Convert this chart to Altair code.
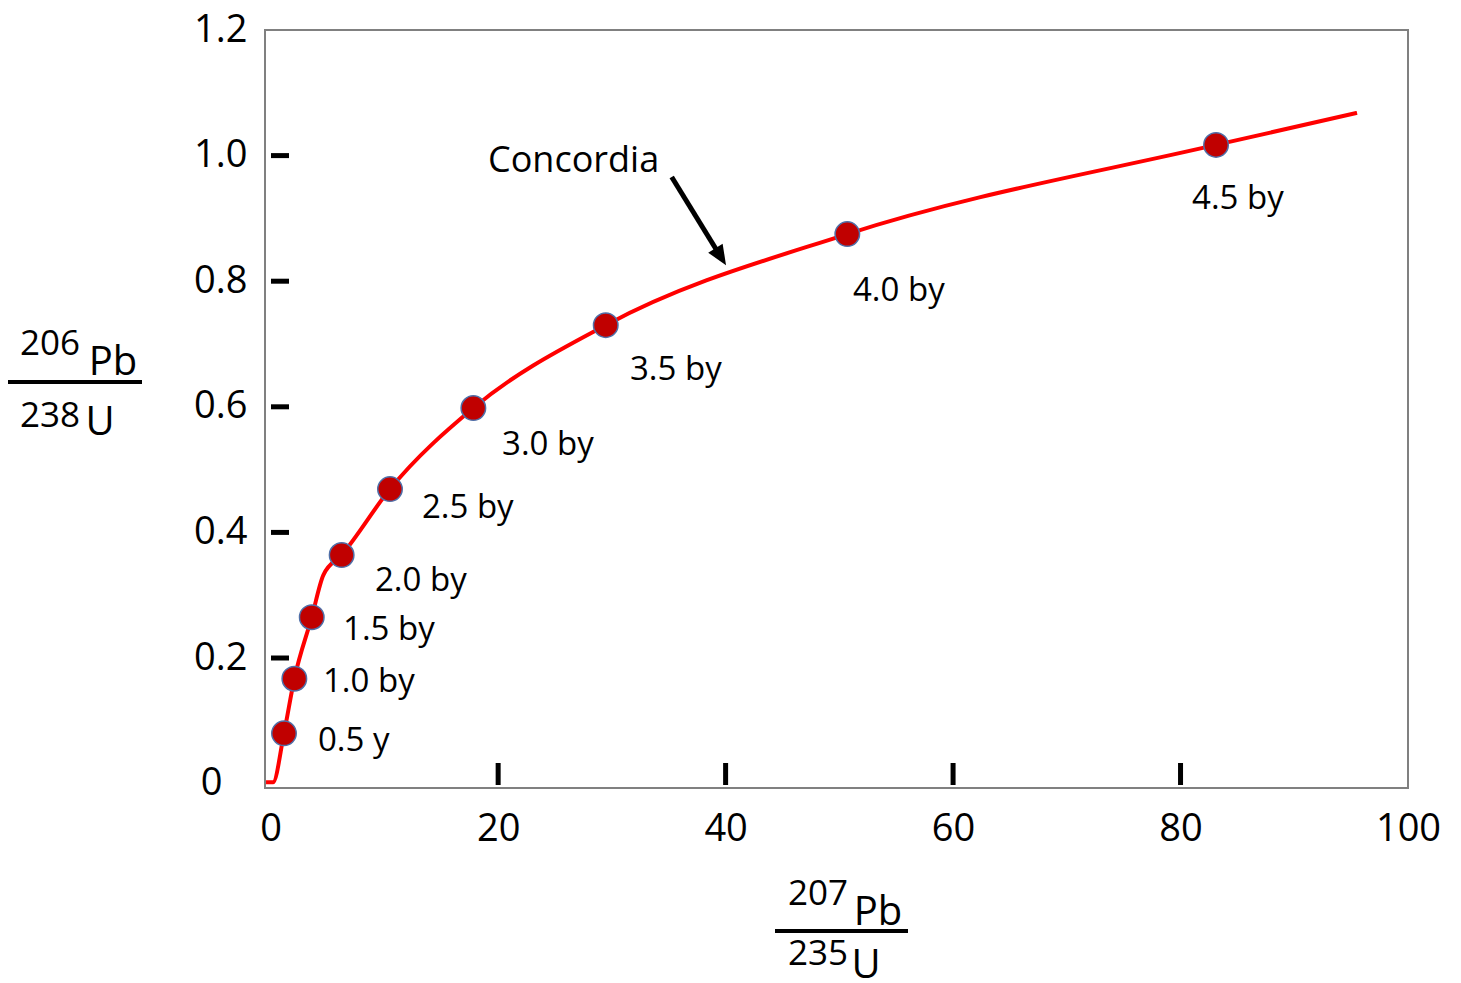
import altair as alt
import pandas as pd

# ---- data ----
ages = ["0.5 y", "1.0 by", "1.5 by", "2.0 by", "2.5 by", "3.0 by", "3.5 by", "4.0 by", "4.5 by"]
pb207_u235 = [1.17, 2.08, 3.61, 6.24, 10.49, 17.82, 29.46, 50.70, 83.12]
pb206_u238 = [0.080, 0.167, 0.265, 0.364, 0.469, 0.598, 0.730, 0.875, 1.017]
label_x = [4.16, 4.60, 6.36, 9.17, 13.30, 20.34, 31.59, 51.20, 81.01]
label_y = [0.068, 0.162, 0.245, 0.323, 0.439, 0.539, 0.659, 0.784, 0.931]

curve_x = [-0.41, 0.20, 1.17, 2.08, 3.61, 4.63, 6.24, 10.49, 17.82, 29.46, 50.70, 83.12, 95.52]
curve_y = [0.002, 0.002, 0.080, 0.167, 0.265, 0.332, 0.364, 0.469, 0.598, 0.730, 0.875, 1.017, 1.068]

x_ticks = [20, 40, 60, 80]
y_ticks = [0.2, 0.4, 0.6, 0.8, 1.0]
x_labels = [0, 20, 40, 60, 80, 100]
y_labels = [0, 0.2, 0.4, 0.6, 0.8, 1.0, 1.2]

concordia_label = ["Concordia"]
concordia_label_x = [19.11]
concordia_label_y = [0.991]
arrow_x = [35.26]
arrow_y = [0.966]
arrow_x2 = [39.57]
arrow_y2 = [0.839]

FONT = "Open Sans"

points = pd.DataFrame({"age": ages, "x": pb207_u235, "y": pb206_u238,
                       "lx": label_x, "ly": label_y})
curve = pd.DataFrame({"x": curve_x, "y": curve_y, "order": list(range(len(curve_x)))})
xt = pd.DataFrame({"x": x_ticks})
yt = pd.DataFrame({"y": y_ticks})
conc = pd.DataFrame({"t": concordia_label, "x": concordia_label_x, "y": concordia_label_y})
arrow = pd.DataFrame({"x": arrow_x, "y": arrow_y, "x2": arrow_x2, "y2": arrow_y2})

xs = alt.Scale(domain=[-0.5, 100], nice=False, zero=False)
ys = alt.Scale(domain=[-0.007, 1.2], nice=False, zero=False)

x_axis = alt.Axis(values=x_labels, format="d", labelFont=FONT, labelFontSize=38,
                  labelColor="black", ticks=False, tickSize=0, domain=False, grid=False,
                  title=None, labelPadding=22, labelFlush=False, labelOverlap=False)
y_axis = alt.Axis(values=y_labels, labelFont=FONT, labelFontSize=38, labelColor="black",
                  labelExpr="datum.value == 0 ? '0' : format(datum.value, '.1f')",
                  ticks=False, tickSize=0, domain=False, grid=False, title=None,
                  labelPadding={"condition": {"test": "datum.value === 0", "value": 43},
                                "value": 18},
                  labelFlush=False, labelOverlap=False)


def X(field):
    return alt.X(field, type="quantitative", scale=xs, axis=x_axis)


def Y(field):
    return alt.Y(field, type="quantitative", scale=ys, axis=y_axis)


line = alt.Chart(curve).mark_line(color="#FF0000", strokeWidth=4, interpolate="monotone").encode(
    x=X("x"), y=Y("y"), order="order:Q",
)

dots = alt.Chart(points).mark_point(filled=True, shape="circle", size=600, opacity=1,
                                    fill="#C00000", stroke="#4F6FA8", strokeWidth=1.5).encode(
    x=X("x"), y=Y("y"),
)

labels = alt.Chart(points).mark_text(align="left", baseline="middle", font=FONT,
                                     fontSize=33, color="black").encode(
    x=X("lx"), y=Y("ly"), text="age:N",
)

conc_text = alt.Chart(conc).mark_text(align="left", baseline="middle", font=FONT,
                                      fontSize=36, color="black").encode(
    x=X("x"), y=Y("y"), text="t:N",
)

shaft = alt.Chart(arrow).mark_rule(color="black", strokeWidth=5).encode(
    x=X("x"), y=Y("y"), x2="x2:Q", y2="y2:Q",
)
head = alt.Chart(arrow).mark_point(shape="M0,-1L0.85,1L-0.85,1Z", filled=True, fill="black",
                                   opacity=1, size=400, angle=148, strokeWidth=0).encode(
    x=X("x2"), y=Y("y2"),
)

xtick_marks = alt.Chart(xt).mark_tick(color="black", thickness=5, size=22, orient="vertical",
                                      opacity=1).encode(
    x=X("x"), y=alt.value(744),
)
ytick_marks = alt.Chart(yt).mark_tick(color="black", thickness=5, size=18, orient="horizontal",
                                      opacity=1).encode(
    y=Y("y"), x=alt.value(15),
)


def txt(s, x, y, size, align="center"):
    return alt.Chart(pd.DataFrame({"t": [s]})).mark_text(
        align=align, baseline="alphabetic", font=FONT, fontSize=size, color="black"
    ).encode(x=alt.value(x), y=alt.value(y), text="t:N")


def bar(x1, x2, y):
    return alt.Chart(pd.DataFrame({"a": [0]})).mark_rule(color="black", strokeWidth=4).encode(
        x=alt.value(x1), x2=alt.value(x2), y=alt.value(y))


ytitle = [
    txt("206", 50 - 265, 325, 35), txt("Pb", 113 - 265, 345, 40),
    bar(-257, -123, 352),
    txt("238", 50 - 265, 397, 35), txt("U", 100 - 265, 405, 40),
]
xtitle = [
    txt("207", 818 - 265, 875, 35), txt("Pb", 878 - 265, 895, 40),
    bar(510, 643, 901),
    txt("235", 818 - 265, 935, 35), txt("U", 866 - 265, 948, 40),
]

chart = alt.layer(
    line, xtick_marks, ytick_marks, shaft, head, dots, labels, conc_text, *ytitle, *xtitle
).properties(
    width=1143, height=758,
    autosize=alt.AutoSizeParams(type="none"),
    padding={"left": 257, "top": 22, "right": 40, "bottom": 196},
).configure_view(
    stroke="#808080", strokeWidth=2
)

chart.save("out.html", embed_options={"renderer": "svg", "actions": False})
